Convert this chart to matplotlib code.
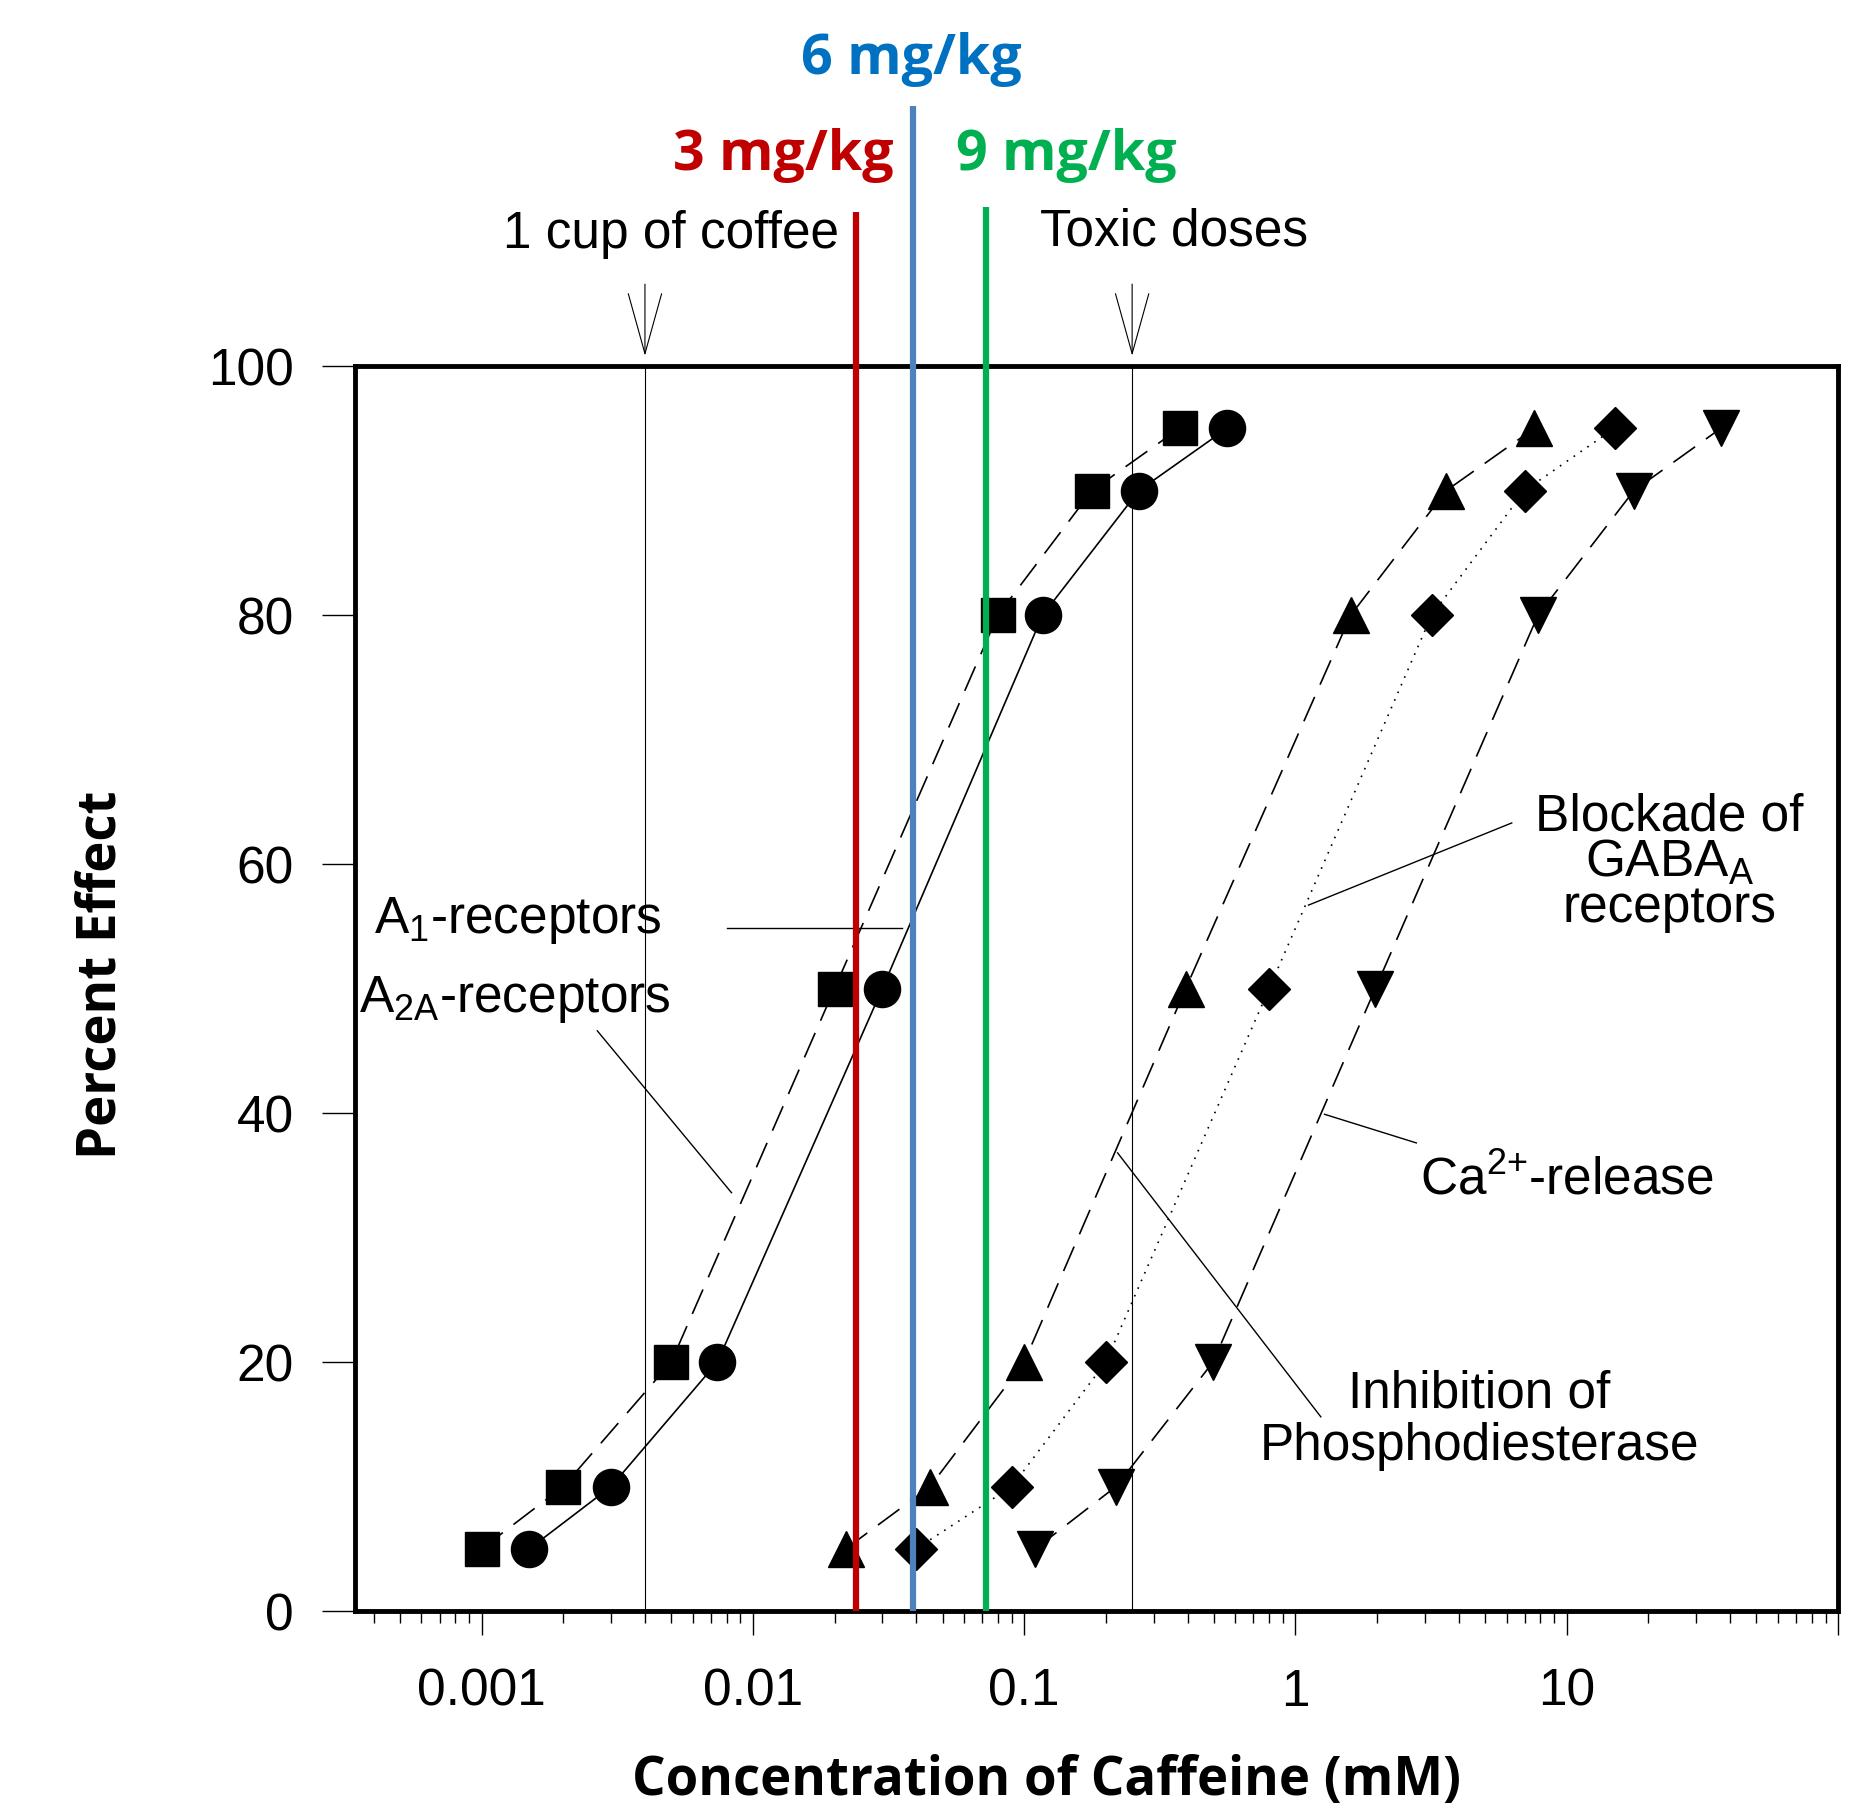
import matplotlib
matplotlib.use('Agg')
import matplotlib.pyplot as plt
from matplotlib.ticker import LogLocator, NullFormatter, FixedLocator, FixedFormatter

plt.rcParams['font.family'] = ['Liberation Sans', 'DejaVu Sans']
plt.rcParams['mathtext.fontset'] = 'custom'
plt.rcParams['mathtext.rm'] = 'Liberation Sans'
plt.rcParams['mathtext.default'] = 'regular'

# percent effect levels shared by every curve
levels = [5, 10, 20, 50, 80, 90, 95]
# caffeine concentrations (mM) per curve
conc_square = [0.001, 0.002, 0.005, 0.02, 0.08, 0.178, 0.374]
conc_circle = [0.0015, 0.003, 0.0074, 0.03, 0.117, 0.265, 0.56]
conc_tri_up = [0.022, 0.045, 0.10, 0.394, 1.60, 3.6, 7.6]
conc_diamond = [0.040, 0.090, 0.20, 0.80, 3.18, 7.0, 15.0]
conc_tri_down = [0.110, 0.218, 0.497, 1.97, 7.84, 17.7, 37.0]

ref_conc = [0.004, 0.25]
ref_labels = ['1 cup of coffee', 'Toxic doses']

dose_labels = ['3 mg/kg', '6 mg/kg', '9 mg/kg']
dose_conc = [0.0239, 0.0389, 0.0723]
dose_top = [112.4, 120.9, 112.8]
dose_line_colors = ['#C00000', '#4F81BD', '#00B050']
dose_text_colors = ['#C00000', '#0070C0', '#00B050']

x_ticks = [0.001, 0.01, 0.1, 1, 10, 100]
x_ticklabels = ['0.001', '0.01', '0.1', '1', '10', '']
y_ticks = [0, 20, 40, 60, 80, 100]

fs = 37  # size of the arial-like texts

fig = plt.figure(figsize=(18.74, 18.12), dpi=100)
ax = fig.add_axes([0.1894, 0.1109, 0.7914, 0.6871])
ax.set_xscale('log')
ax.set_xlim(10 ** -3.467, 100)
ax.set_ylim(0, 100)

lw = 1.2
ax.plot(conc_square, levels, color='black', lw=lw, ls=(0, (16, 8)),
        marker='s', ms=25, mfc='black', mec='black')
ax.plot(conc_circle, levels, color='black', lw=lw, ls='-',
        marker='o', ms=26, mfc='black', mec='black')
ax.plot(conc_tri_up, levels, color='black', lw=lw, ls=(0, (16, 8)),
        marker='^', ms=26, mfc='black', mec='black')
ax.plot(conc_diamond, levels, color='black', lw=lw, ls=(0, (1, 4)),
        marker='D', ms=21, mfc='black', mec='black')
ax.plot(conc_tri_down, levels, color='black', lw=lw, ls=(0, (16, 8)),
        marker='v', ms=26, mfc='black', mec='black')

# reference lines: coffee / toxic
for c, lab in zip(ref_conc, ref_labels):
    ax.axvline(c, color='black', lw=0.8, zorder=1)
    ax.annotate('', xy=(c, 100.6), xytext=(c, 106.8), annotation_clip=False,
                arrowprops=dict(arrowstyle='->, head_length=3.6, head_width=1.0',
                                color='black', lw=0.8, mutation_scale=12))
ax.text(0.0050, 110.6, ref_labels[0], ha='center', va='center', fontsize=fs, clip_on=False)
ax.text(0.356, 110.8, ref_labels[1], ha='center', va='center', fontsize=fs, clip_on=False)

# dose lines
for c, top, col in zip(dose_conc, dose_top, dose_line_colors):
    ax.plot([c, c], [0, top], color=col, lw=4.5, clip_on=False, zorder=5,
            solid_capstyle='butt')
dose_text_x = [0.0129, 0.0385, 0.1426]
dose_text_y = [116.9, 124.6, 116.9]
for lab, tx, ty, col in zip(dose_labels, dose_text_x, dose_text_y, dose_text_colors):
    ax.text(tx, ty, lab, ha='center', va='center', fontsize=40, color=col,
            family='Open Sans', weight='bold', clip_on=False)

# curve annotations
ax.text(0.000402, 55.5, 'A$_1$-receptors', ha='left', va='center', fontsize=fs)
ax.plot([0.0080, 0.0356], [54.9, 54.9], color='black', lw=1.0)
ax.text(0.000352, 49.1, 'A$_{2A}$-receptors', ha='left', va='center', fontsize=fs)
ax.plot([0.00267, 0.00834], [46.6, 33.6], color='black', lw=1.0)
ax.text(23.9, 60.1, 'Blockade of\nGABA$_A$\nreceptors', ha='center', va='center',
        fontsize=fs, linespacing=0.9)
ax.plot([1.117, 6.27], [56.7, 63.3], color='black', lw=1.0)
ax.text(2.87, 34.6, 'Ca$^{2{+}}$-release', ha='left', va='center', fontsize=fs)
ax.plot([1.28, 2.79], [39.9, 37.6], color='black', lw=1.0)
ax.text(4.77, 15.3, 'Inhibition of\nPhosphodiesterase', ha='center', va='center',
        fontsize=fs, linespacing=1.1)
ax.plot([0.221, 1.24], [36.8, 15.6], color='black', lw=1.0)

# axes styling
for s in ax.spines.values():
    s.set_linewidth(3.5)
ax.xaxis.set_major_locator(FixedLocator(x_ticks))
ax.xaxis.set_major_formatter(FixedFormatter(x_ticklabels))
ax.xaxis.set_minor_locator(LogLocator(base=10, subs=range(2, 10), numticks=20))
ax.xaxis.set_minor_formatter(NullFormatter())
ax.set_yticks(y_ticks)
ax.tick_params(axis='x', which='major', direction='out', length=17, width=1.0,
               pad=24, labelsize=fs)
ax.tick_params(axis='x', which='minor', direction='out', length=8.5, width=1.0)
ax.tick_params(axis='y', which='major', direction='out', length=24, width=1.0,
               pad=20, labelsize=fs)

ax.set_xlabel('Concentration of Caffeine (mM)', family='Open Sans', weight='bold',
              fontsize=38, va='center')
ax.xaxis.set_label_coords(0.466, -0.1365)
ax.set_ylabel('Percent Effect', family='Open Sans', weight='bold', fontsize=38,
              va='center')
ax.yaxis.set_label_coords(-0.171, 0.511)

fig.savefig('out.png', dpi=100)
